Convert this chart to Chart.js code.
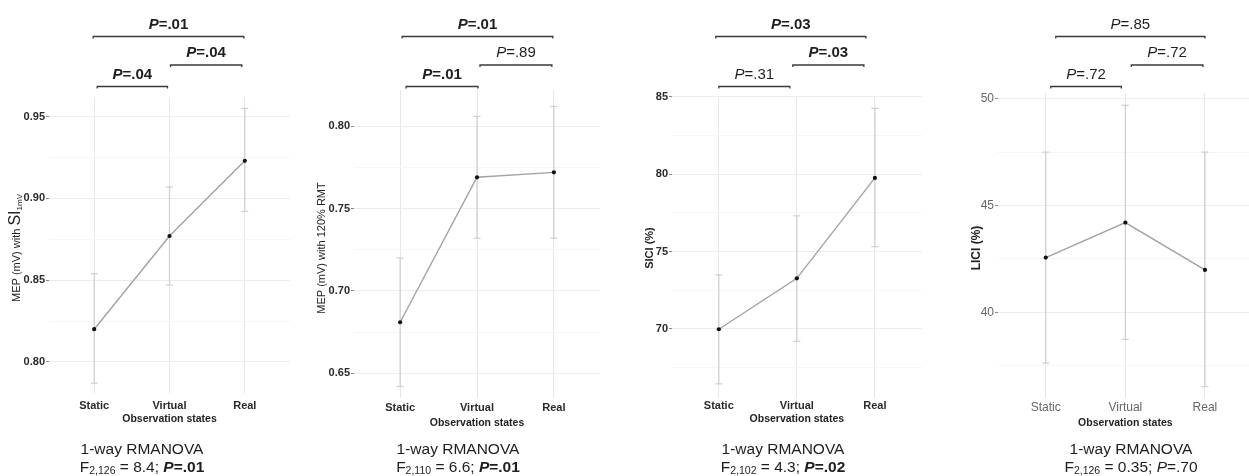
<!DOCTYPE html>
<html><head><meta charset="utf-8">
<script src="https://cdn.jsdelivr.net/npm/chart.js@4/dist/chart.umd.min.js"></script>
<style>
html,body{margin:0;padding:0;background:#fff;overflow:hidden;width:1249px;height:476px;position:relative}
canvas{position:absolute;top:0}
</style></head><body>
<canvas id="c1"></canvas><canvas id="c2"></canvas><canvas id="c3"></canvas><canvas id="c4"></canvas>
<script>
// ---------- data ----------
const categories = ['Static', 'Virtual', 'Real'];

const mep1Mean = [0.820, 0.877, 0.923];
const mep1Low  = [0.787, 0.847, 0.892];
const mep1High = [0.854, 0.907, 0.955];
const mep1Ticks = [0.80, 0.85, 0.90, 0.95];
const mep1TickLabels = ['0.80', '0.85', '0.90', '0.95'];
const mep1Minor = [0.825, 0.875, 0.925];
const mep1P = ['.01', '.04', '.04'];          // Static–Real, Virtual–Real, Static–Virtual
const mep1PBold = [true, true, true];

const mep120Mean = [0.681, 0.769, 0.772];
const mep120Low  = [0.642, 0.732, 0.732];
const mep120High = [0.720, 0.806, 0.812];
const mep120Ticks = [0.65, 0.70, 0.75, 0.80];
const mep120TickLabels = ['0.65', '0.70', '0.75', '0.80'];
const mep120Minor = [0.675, 0.725, 0.775];
const mep120P = ['.01', '.89', '.01'];
const mep120PBold = [true, false, true];

const siciMean = [69.98, 73.27, 79.76];
const siciLow  = [66.45, 69.20, 75.32];
const siciHigh = [73.49, 77.30, 84.25];
const siciTicks = [70, 75, 80, 85];
const siciTickLabels = ['70', '75', '80', '85'];
const siciMinor = [67.5, 72.5, 77.5, 82.5];
const siciP = ['.03', '.03', '.31'];
const siciPBold = [true, true, false];

const liciMean = [42.56, 44.20, 41.98];
const liciLow  = [37.61, 38.73, 36.51];
const liciHigh = [47.50, 49.69, 47.50];
const liciTicks = [40, 45, 50];
const liciTickLabels = ['40', '45', '50'];
const liciMinor = [37.5, 42.5, 47.5];
const liciP = ['.85', '.72', '.72'];
const liciPBold = [false, false, false];

const comparisons = [[0, 2], [1, 2], [0, 1]];

// ANOVA text pieces: df subscript, F value, P value, significant?
const anovaDf = ['2,126', '2,110', '2,102', '2,126'];
const anovaF = ['8.4', '6.6', '4.3', '0.35'];
const anovaP = ['.01', '.01', '.02', '.70'];
const anovaSig = [true, true, true, false];

// ---------- drawing ----------
const FF = '"Liberation Sans", Arial, Helvetica, sans-serif';

function rich(ctx, segs, x, y, rotate) {
  ctx.save();
  ctx.translate(x, y);
  if (rotate) ctx.rotate(-Math.PI / 2);
  ctx.textBaseline = 'alphabetic';
  ctx.textAlign = 'left';
  let total = 0;
  segs.forEach(s => { ctx.font = s.f; total += ctx.measureText(s.t).width; });
  let cx = -total / 2;
  segs.forEach(s => {
    ctx.font = s.f;
    ctx.fillStyle = s.c || '#1e1e1e';
    ctx.fillText(s.t, cx, s.dy || 0);
    cx += ctx.measureText(s.t).width;
  });
  ctx.restore();
}

function makePanel(id, cfg) {
  const cv = document.getElementById(id);
  cv.width = cfg.width; cv.height = 476;
  cv.style.left = cfg.left + 'px';
  cv.style.width = cfg.width + 'px'; cv.style.height = '476px';
  const A = cfg.area;
  const isMajor = v => cfg.ticks.some(t => Math.abs(t - v) < 1e-9);

  const annot = {
    id: 'annot' + id,
    afterDraw(chart) {
      const ctx = chart.ctx;
      const xs = chart.scales.x;
      // significance brackets
      const ys = [36.5, 65, 86.5];
      comparisons.forEach((cmp, k) => {
        const x0 = xs.getPixelForValue(cmp[0]) + cfg.nudge[k][0];
        const x1 = xs.getPixelForValue(cmp[1]) + cfg.nudge[k][1];
        const y = ys[k];
        ctx.save();
        ctx.strokeStyle = '#3a3a3a';
        ctx.lineWidth = 1.3;
        ctx.beginPath();
        ctx.moveTo(x0, y + 2); ctx.lineTo(x0, y); ctx.lineTo(x1, y); ctx.lineTo(x1, y + 2);
        ctx.stroke();
        ctx.restore();
        const b = cfg.pBold[k];
        rich(ctx, [
          { t: 'P', f: (b ? 'italic bold ' : 'italic ') + '15px ' + FF },
          { t: '=' + cfg.p[k], f: (b ? 'bold ' : '') + '15px ' + FF }
        ], (x0 + x1) / 2, y - 8, false);
      });
      // x axis title
      rich(ctx, [{ t: 'Observation states', f: 'bold 10.5px ' + FF, c: '#222' }],
        xs.getPixelForValue(1), cfg.xTitleY, false);
      // y axis title
      rich(ctx, cfg.yTitle, cfg.yTitleX, 248, true);
      // bottom ANOVA text
      const i = cfg.idx;
      rich(ctx, [{ t: '1-way RMANOVA', f: '15.5px ' + FF }], cfg.statX, 454, false);
      const s = anovaSig[i];
      rich(ctx, [
        { t: 'F', f: '15.5px ' + FF },
        { t: anovaDf[i], f: '10.5px ' + FF, dy: 2 },
        { t: ' = ' + anovaF[i] + '; ', f: '15.5px ' + FF },
        { t: 'P', f: (s ? 'italic bold ' : 'italic ') + '15.5px ' + FF },
        { t: '=' + anovaP[i], f: (s ? 'bold ' : '') + '15.5px ' + FF }
      ], cfg.statX, 472, false);
    }
  };

  const datasets = [{
    data: categories.map((c, i) => ({ x: i, y: cfg.mean[i] })),
    borderColor: '#a2a2a2', borderWidth: 1.4, tension: 0,
    pointRadius: 2.1, pointBackgroundColor: '#111', pointBorderColor: '#111', pointBorderWidth: 0
  }];
  categories.forEach((c, i) => {
    datasets.push({
      data: [{ x: i, y: cfg.low[i] }, { x: i, y: cfg.high[i] }],
      borderColor: '#cfcfcf', borderWidth: 1.2,
      pointStyle: 'line', pointRadius: 3.5, pointBorderColor: '#cfcfcf', pointBorderWidth: 1.2
    });
  });

  new Chart(cv, {
    type: 'line',
    data: { datasets },
    options: {
      responsive: false, animation: false, devicePixelRatio: 1, events: [],
      plugins: { legend: { display: false }, tooltip: { enabled: false } },
      layout: { autoPadding: false, padding: { left: 0, right: cfg.width - A.r, top: A.t, bottom: 476 - A.b - 30 } },
      scales: {
        x: {
          type: 'linear', min: -0.6, max: 2.6,
          afterBuildTicks: s => { s.ticks = categories.map((c, i) => ({ value: i })); },
          afterFit: s => { s.height = 30; },
          ticks: { callback: v => categories[v], font: cfg.tickFont, color: cfg.tickColor, padding: cfg.xTickPad, maxRotation: 0, autoSkip: false },
          grid: { color: '#e6e6e6', lineWidth: 1, drawTicks: false },
          border: { display: false }
        },
        y: {
          min: cfg.yMin, max: cfg.yMax,
          afterBuildTicks: s => { s.ticks = cfg.ticks.concat(cfg.minor).sort((a, b) => a - b).map(v => ({ value: v })); },
          afterFit: s => { s.width = A.l; },
          ticks: {
            callback: v => { const k = cfg.ticks.findIndex(t => Math.abs(t - v) < 1e-9); return k >= 0 ? cfg.tickLabels[k] : ''; },
            font: cfg.tickFont, color: cfg.tickColor, padding: 1, autoSkip: false
          },
          grid: {
            color: c => isMajor(c.tick.value) ? '#ececec' : '#f5f5f5',
            tickColor: c => isMajor(c.tick.value) ? '#888' : 'rgba(0,0,0,0)',
            tickLength: 3, lineWidth: 1
          },
          border: { display: false }
        }
      }
    },
    plugins: [annot]
  });
}

const boldTick = { family: FF, size: 11, weight: 'bold' };
const plainTick = { family: FF, size: 12, weight: 'normal' };

makePanel('c1', {
  idx: 0, left: 0, width: 300, area: { l: 49, r: 290, t: 97, b: 393 },
  yMin: 0.781, yMax: 0.962, mean: mep1Mean, low: mep1Low, high: mep1High,
  ticks: mep1Ticks, tickLabels: mep1TickLabels, minor: mep1Minor,
  p: mep1P, pBold: mep1PBold, nudge: [[-1, -1], [1, -3], [3, -2]],
  tickFont: boldTick, tickColor: '#2a2a2a', xTickPad: 6.5, xTitleY: 422, statX: 142,
  yTitleX: 19.5,
  yTitle: [{ t: 'MEP (mV) with ', f: '11px ' + FF, c: '#222' }, { t: 'SI', f: '16px ' + FF, c: '#222' }, { t: '1mV', f: '8px ' + FF, c: '#222', dy: 2 }]
});
makePanel('c2', {
  idx: 1, left: 300, width: 310, area: { l: 54, r: 300, t: 90, b: 398 },
  yMin: 0.635, yMax: 0.822, mean: mep120Mean, low: mep120Low, high: mep120High,
  ticks: mep120Ticks, tickLabels: mep120TickLabels, minor: mep120Minor,
  p: mep120P, pBold: mep120PBold, nudge: [[2, -1], [3, -2], [6, 1]],
  tickFont: boldTick, tickColor: '#2a2a2a', xTickPad: 3.5, xTitleY: 425.5, statX: 158,
  yTitleX: 25,
  yTitle: [{ t: 'MEP (mV) with 120% RMT', f: '11px ' + FF, c: '#222' }]
});
makePanel('c3', {
  idx: 2, left: 620, width: 310, area: { l: 52, r: 301.7, t: 96, b: 398 },
  yMin: 65.54, yMax: 85.05, mean: siciMean, low: siciLow, high: siciHigh,
  ticks: siciTicks, tickLabels: siciTickLabels, minor: siciMinor,
  p: siciP, pBold: siciPBold, nudge: [[-3, -9], [-4, -11], [0, -7]],
  tickFont: boldTick, tickColor: '#2a2a2a', xTickPad: 1.5, xTitleY: 422, statX: 163,
  yTitleX: 33,
  yTitle: [{ t: 'SICI (%)', f: 'bold 11px ' + FF, c: '#222' }]
});
makePanel('c4', {
  idx: 3, left: 930, width: 330, area: { l: 68, r: 322.7, t: 93, b: 398 },
  yMin: 35.98, yMax: 50.27, mean: liciMean, low: liciLow, high: liciHigh,
  ticks: liciTicks, tickLabels: liciTickLabels, minor: liciMinor,
  p: liciP, pBold: liciPBold, nudge: [[10, 0], [6, -2], [5, -4]],
  tickFont: plainTick, tickColor: '#666', xTickPad: 2.8, xTitleY: 425.5, statX: 201,
  yTitleX: 50,
  yTitle: [{ t: 'LICI (%)', f: 'bold 12px ' + FF, c: '#222' }]
});
</script>
</body></html>
